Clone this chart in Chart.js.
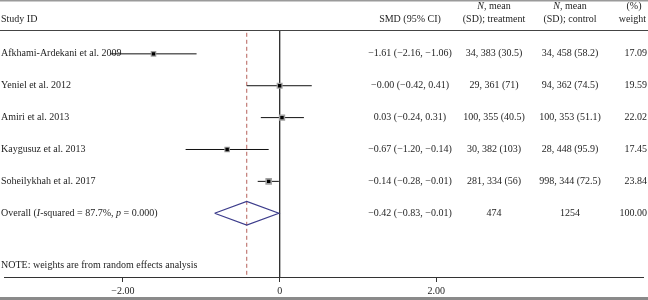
<!DOCTYPE html>
<html><head><meta charset="utf-8">
<script src="https://cdn.jsdelivr.net/npm/chart.js@4.4.1/dist/chart.umd.min.js"></script>
<style>html,body{margin:0;padding:0;background:#fff}canvas{display:block}</style>
</head><body>
<canvas id="c" width="648" height="300"></canvas>
<script>
const studies = ["Afkhami-Ardekani et al. 2009","Yeniel et al. 2012","Amiri et al. 2013","Kaygusuz et al. 2013","Soheilykhah et al. 2017"];
const smd = [-1.61, -0.00, 0.03, -0.67, -0.14];
const ciLow = [-2.16, -0.42, -0.24, -1.20, -0.28];
const ciHigh = [-1.06, 0.41, 0.31, -0.14, -0.01];
const treatment = ["34, 383 (30.5)","29, 361 (71)","100, 355 (40.5)","30, 382 (103)","281, 334 (56)"];
const control = ["34, 458 (58.2)","94, 362 (74.5)","100, 353 (51.1)","28, 448 (95.9)","998, 344 (72.5)"];
const weights = [17.09, 19.59, 22.02, 17.45, 23.84];
const overallSmd = -0.42, overallLow = -0.83, overallHigh = -0.01;
const overallTreatment = "474", overallControl = "1254", overallWeight = 100.00;
const xTicks = [-2, 0, 2];

const FONT = "Liberation Serif";
const TXT = "#1e1e1e";
function fmt(v){ return ((v < 0 || Object.is(v, -0)) ? "\u2212" : "") + Math.abs(v).toFixed(2); }
function tickFmt(v){ return v === 0 ? "0" : fmt(v); }

const overallRow = studies.length;
const noteRow = 6.64, headerRow = -1.08, headerLineRow = -0.74;

const datasets = [];
datasets.push({order:10, data:[{x:0,y:headerLineRow},{x:0,y:7}], showLine:true, borderColor:"#333", borderWidth:1, pointRadius:0, fill:false});
datasets.push({order:9, data:[{x:overallSmd,y:-0.66},{x:overallSmd,y:6.94}], showLine:true, borderColor:"#b5605a", borderWidth:1, borderDash:[4,3], pointRadius:0, fill:false});
studies.forEach((s,i)=>{
  datasets.push({order:8, data:[{x:ciLow[i],y:i},{x:ciHigh[i],y:i}], showLine:true, borderColor:"#111", borderWidth:1, pointRadius:0, fill:false});
});
datasets.push({order:7, data:[{x:overallLow,y:overallRow},{x:overallSmd,y:overallRow-0.37},{x:overallHigh,y:overallRow},{x:overallSmd,y:overallRow+0.37},{x:overallLow,y:overallRow}],
  showLine:true, borderColor:"#3d3d8c", borderWidth:1.2, pointRadius:0, fill:false, tension:0});
datasets.push({order:6, data:studies.map((s,i)=>({x:smd[i],y:i})), showLine:false, pointStyle:"rect",
  pointRadius:weights.map(w=>1.35*Math.sqrt(w)/1.414), backgroundColor:"#a0a0a0", borderWidth:0, pointBorderWidth:0});
datasets.push({order:1, data:studies.map((s,i)=>({x:smd[i],y:i})), showLine:false, pointStyle:"rect",
  pointRadius:2.4, backgroundColor:"#000", borderWidth:0, pointBorderWidth:0});

function drawRuns(ctx, runs, x, y, align){
  let total = 0;
  runs.forEach(r=>{ ctx.font = (r[1]?"italic ":"") + "10px '" + FONT + "'"; total += ctx.measureText(r[0]).width; });
  let cx = align === "center" ? x - total/2 : (align === "right" ? x - total : x);
  ctx.textAlign = "left";
  runs.forEach(r=>{ ctx.font = (r[1]?"italic ":"") + "10px '" + FONT + "'"; ctx.fillText(r[0], cx, y); cx += ctx.measureText(r[0]).width; });
}

const textPlugin = {
  id:"forestText",
  afterDraw(chart){
    const ctx = chart.ctx, ys = chart.scales.y;
    ctx.save();
    ctx.fillStyle = "#9a9a9a"; ctx.fillRect(0,0,648,1.5);
    ctx.fillStyle = "#8a8a8a"; ctx.fillRect(0,297,648,3);
    ctx.strokeStyle = "#444"; ctx.lineWidth = 1;
    const hl = Math.round(ys.getPixelForValue(headerLineRow)) + 0.5;
    ctx.beginPath(); ctx.moveTo(0,hl); ctx.lineTo(648,hl); ctx.stroke();

    ctx.fillStyle = TXT; ctx.textBaseline = "middle";
    const colSmd = 410, colT = 494, colC = 570, colW = 647;
    const hy = ys.getPixelForValue(headerRow);
    drawRuns(ctx, [["Study ID",false]], 1, hy, "left");
    drawRuns(ctx, [["SMD (95% CI)",false]], colSmd, hy, "center");
    drawRuns(ctx, [["N",true],[", mean",false]], colT, 6.5, "center");
    drawRuns(ctx, [["(SD); treatment",false]], colT, 19.5, "center");
    drawRuns(ctx, [["N",true],[", mean",false]], colC, 6.5, "center");
    drawRuns(ctx, [["(SD); control",false]], colC, 19.5, "center");
    drawRuns(ctx, [["(%)",false]], 634, 6.5, "center");
    drawRuns(ctx, [["weight",false]], 646, 19.5, "right");

    studies.forEach((s,i)=>{
      const y = ys.getPixelForValue(i);
      drawRuns(ctx, [[s,false]], 1, y, "left");
      drawRuns(ctx, [[fmt(smd[i]) + " (" + fmt(ciLow[i]) + ", " + fmt(ciHigh[i]) + ")",false]], colSmd, y, "center");
      drawRuns(ctx, [[treatment[i],false]], colT, y, "center");
      drawRuns(ctx, [[control[i],false]], colC, y, "center");
      drawRuns(ctx, [[weights[i].toFixed(2),false]], colW, y, "right");
    });
    const oy = ys.getPixelForValue(overallRow);
    drawRuns(ctx, [["Overall (",false],["I",true],["-squared = 87.7%, ",false],["p",true],[" = 0.000)",false]], 1, oy, "left");
    drawRuns(ctx, [[fmt(overallSmd) + " (" + fmt(overallLow) + ", " + fmt(overallHigh) + ")",false]], colSmd, oy, "center");
    drawRuns(ctx, [[overallTreatment,false]], colT, oy, "center");
    drawRuns(ctx, [[overallControl,false]], colC, oy, "center");
    drawRuns(ctx, [[overallWeight.toFixed(2),false]], colW, oy, "right");
    drawRuns(ctx, [["NOTE: weights are from random effects analysis",false]], 1, ys.getPixelForValue(noteRow), "left");
    ctx.restore();
  }
};

new Chart(document.getElementById("c"), {
  type:"scatter",
  data:{datasets},
  options:{
    responsive:false, animation:false, events:[],
    layout:{padding:0},
    plugins:{legend:{display:false}, tooltip:{enabled:false}},
    scales:{
      x:{type:"linear", min:-3.5094, max:4.6415,
        afterBuildTicks:s=>{ s.ticks = xTicks.map(v=>({value:v})); },
        afterFit:s=>{ s.height = 23; },
        ticks:{callback:v=>tickFmt(v), font:{family:FONT,size:10}, color:TXT, padding:3, maxRotation:0, autoSkip:false},
        grid:{drawOnChartArea:false, drawTicks:true, tickLength:5, color:"#333", lineWidth:1},
        border:{display:true, color:"#333", width:1}},
      y:{type:"linear", display:false, min:-1.543, max:7, reverse:true}
    }
  },
  plugins:[textPlugin]
});
</script>
</body></html>
